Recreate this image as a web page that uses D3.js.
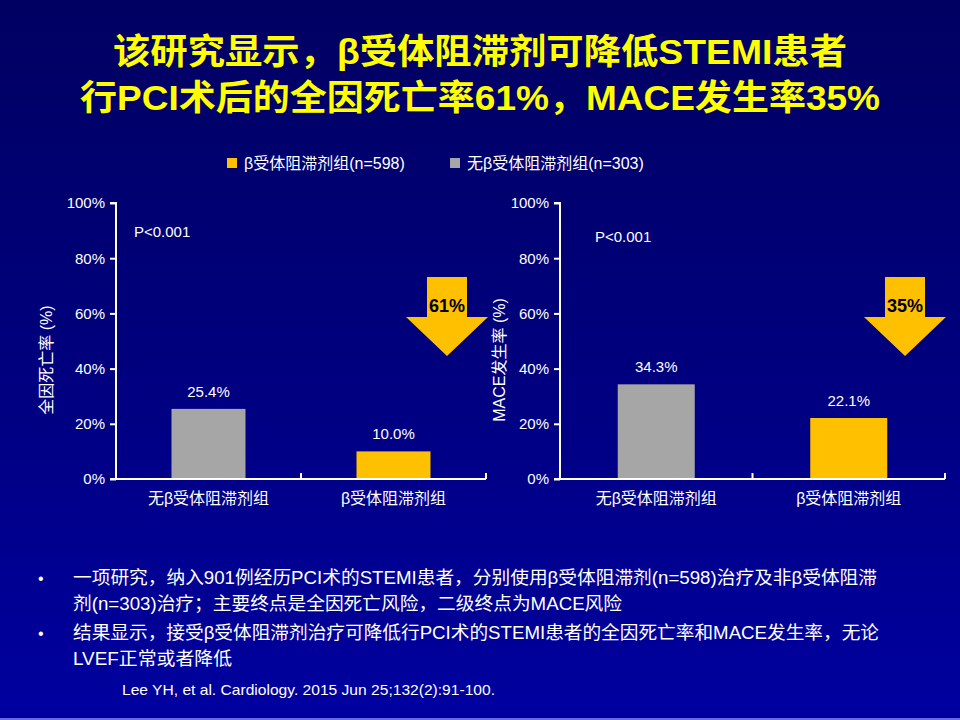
<!DOCTYPE html>
<html>
<head>
<meta charset="utf-8">
<script src="https://cdn.jsdelivr.net/npm/d3@7"></script>
<style>
  html, body { margin: 0; padding: 0; background: #00007a; }
  svg { display: block; }
  text { font-family: Arial, "Liberation Sans", "Noto Sans CJK SC", sans-serif; }
</style>
</head>
<body>
<div class="slide"></div>
<script>
// chart data
const categories = ["无β受体阻滞剂组", "β受体阻滞剂组"];
const seriesNames = ["β受体阻滞剂组(n=598)", "无β受体阻滞剂组(n=303)"];
const mortality = [25.4, 10.0];      // 全因死亡率
const maceRate = [34.3, 22.1];       // MACE发生率
const reductions = ["61%", "35%"];
const yTicks = [0, 20, 40, 60, 80, 100];
const titleLines = ["该研究显示，β受体阻滞剂可降低STEMI患者", "行PCI术后的全因死亡率61%，MACE发生率35%"];
const bullets = [
  ["一项研究，纳入901例经历PCI术的STEMI患者，分别使用β受体阻滞剂(n=598)治疗及非β受体阻滞", "剂(n=303)治疗；主要终点是全因死亡风险，二级终点为MACE风险"],
  ["结果显示，接受β受体阻滞剂治疗可降低行PCI术的STEMI患者的全因死亡率和MACE发生率，无论", "LVEF正常或者降低"]
];
const citation = "Lee YH, et al. Cardiology. 2015 Jun 25;132(2):91-100.";

const W = 960, H = 720;
const barColors = ["#a6a6a6", "#ffc000"];   // gray = no beta-blocker, yellow = beta-blocker

let svg = d3.select(".slide").append("svg")
    .attr("width", W).attr("height", H);

// background gradient
let grad = svg.append("defs").append("linearGradient")
    .attr("id", "bg").attr("x1", 0).attr("y1", 0).attr("x2", 0).attr("y2", 1);
grad.append("stop").attr("offset", "0%").attr("stop-color", "#000062");
grad.append("stop").attr("offset", "50%").attr("stop-color", "#00007e");
grad.append("stop").attr("offset", "100%").attr("stop-color", "#0000a0");
svg.append("rect").attr("width", W).attr("height", H).attr("fill", "url(#bg)");
svg.append("rect").attr("y", H - 2).attr("width", W).attr("height", 2).attr("fill", "#6a6ae0");

// title (widths taken from the slide)
let titleBox = [[113, 734], [80, 800]];
svg.selectAll(".title").data(titleLines).enter().append("text")
    .attr("class", "title")
    .attr("x", (d, i) => titleBox[i][0])
    .attr("y", (d, i) => 64 + i * 46)
    .attr("textLength", (d, i) => titleBox[i][1])
    .attr("lengthAdjust", "spacingAndGlyphs")
    .attr("fill", "#ffff00")
    .attr("font-size", 35)
    .attr("font-weight", "bold")
    .text(d => d);

// legend
let legendX = [227, 450];
let legend = svg.selectAll(".legend").data(seriesNames).enter().append("g")
    .attr("class", "legend")
    .attr("transform", (d, i) => "translate(" + legendX[i] + ",158)");
legend.append("rect").attr("width", 10).attr("height", 10)
    .attr("fill", (d, i) => i === 0 ? barColors[1] : barColors[0]);
legend.append("text").attr("x", 17).attr("y", 11)
    .attr("fill", "#ffffff").attr("font-size", 16).text(d => d);

// one bar panel
function drawPanel(values, opts) {
    let x = d3.scaleBand().domain(categories).range([opts.x0, opts.x1]);
    let y = d3.scaleLinear().domain([0, 100]).range([479, 203]);
    let g = svg.append("g");

    // bars
    g.selectAll(".bar").data(values).enter().append("rect")
        .attr("class", "bar")
        .attr("x", (d, i) => x(categories[i]) + x.bandwidth() / 2 - opts.barW / 2)
        .attr("y", d => y(d))
        .attr("width", opts.barW)
        .attr("height", d => y(0) - y(d))
        .attr("fill", (d, i) => barColors[i]);

    // value labels
    g.selectAll(".val").data(values).enter().append("text")
        .attr("x", (d, i) => x(categories[i]) + x.bandwidth() / 2)
        .attr("y", d => y(d) - 12)
        .attr("text-anchor", "middle")
        .attr("fill", "#ffffff").attr("font-size", 15)
        .text(d => d.toFixed(1) + "%");

    // y axis
    let yAxis = g.append("g")
        .attr("transform", "translate(" + opts.x0 + ",0)")
        .call(d3.axisLeft(y).tickValues(yTicks).tickFormat(d => d + "%").tickSize(6).tickPadding(5));
    yAxis.selectAll("line, path").attr("stroke", "#ffffff").attr("stroke-width", 2);
    yAxis.select(".domain").attr("d", "M0," + y(0) + "V" + y(100) + "H-6");
    yAxis.selectAll("text").attr("fill", "#ffffff").attr("font-size", 15)
        .style("font-family", "Arial, 'Liberation Sans', sans-serif");

    // x axis
    let xAxis = g.append("g")
        .attr("transform", "translate(0," + y(0) + ")")
        .call(d3.axisBottom(x).tickSize(0).tickPadding(14));
    xAxis.select(".domain").attr("stroke", "#ffffff").attr("stroke-width", 2)
        .attr("d", "M" + (opts.x0 - 6) + ",0H" + opts.x1);
    xAxis.selectAll("text").attr("fill", "#ffffff").attr("font-size", 16);
    // category separators
    [opts.x0 + x.step(), opts.x1].forEach(px => {
        g.append("line").attr("x1", px).attr("x2", px)
            .attr("y1", y(0) - 6).attr("y2", y(0))
            .attr("stroke", "#ffffff").attr("stroke-width", 2);
    });

    // axis title
    g.append("text")
        .attr("transform", "translate(" + opts.labelX + ",360) rotate(-90)")
        .attr("text-anchor", "middle")
        .attr("fill", "#ffffff").attr("font-size", 16)
        .text(opts.yLabel);

    // p value
    g.append("text").attr("x", opts.pX).attr("y", opts.pY)
        .attr("fill", "#ffffff").attr("font-size", 15).text("P<0.001");

    // reduction arrow
    let ax = opts.arrowX;
    let arrow = d3.path();
    arrow.moveTo(ax - 20, 277);
    arrow.lineTo(ax + 20, 277);
    arrow.lineTo(ax + 20, 317);
    arrow.lineTo(ax + 41, 317);
    arrow.lineTo(ax, 356);
    arrow.lineTo(ax - 41, 317);
    arrow.lineTo(ax - 20, 317);
    arrow.closePath();
    g.append("path").attr("d", arrow.toString()).attr("fill", "#ffc000");
    g.append("text").attr("x", ax).attr("y", 312)
        .attr("text-anchor", "middle").attr("fill", "#000000")
        .attr("font-size", 18).attr("font-weight", "bold")
        .text(opts.reduction);
}

drawPanel(mortality, {x0: 116, x1: 486, barW: 74, labelX: 52, yLabel: "全因死亡率 (%)",
    pX: 134, pY: 237, arrowX: 447, reduction: reductions[0]});
drawPanel(maceRate, {x0: 560, x1: 945, barW: 77, labelX: 505, yLabel: "MACE发生率 (%)",
    pX: 595, pY: 242, arrowX: 905, reduction: reductions[1]});

// bullet notes (line widths taken from the slide)
let lineY = [584, 610, 639, 665];
let lineW = [804, 549, 806, 159];
let k = 0;
bullets.forEach(b => {
    svg.append("text").attr("x", 38).attr("y", lineY[k])
        .attr("fill", "#ffffff").attr("font-size", 16).text("•");
    b.forEach(line => {
        svg.append("text").attr("x", 73).attr("y", lineY[k])
            .attr("fill", "#ffffff").attr("font-size", 18)
            .attr("textLength", lineW[k])
            .attr("lengthAdjust", "spacingAndGlyphs")
            .text(line);
        k++;
    });
});

svg.append("text").attr("x", 122).attr("y", 695)
    .attr("fill", "#ffffff").attr("font-size", 15)
    .attr("textLength", 373).attr("lengthAdjust", "spacingAndGlyphs")
    .text(citation);
</script>
</body>
</html>
